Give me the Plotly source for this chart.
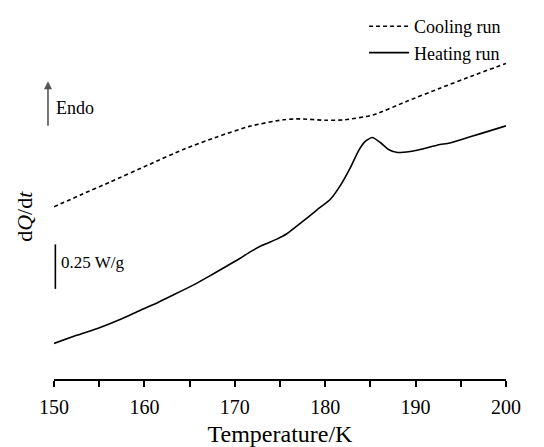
import plotly.graph_objects as go

# Temperature (K) and heat flow (W/g, relative offset)
cool_T = [150.0, 153.0, 156.2, 160.6, 164.3, 168.1, 171.7, 175.4, 177.2, 180.0, 182.2,
          185.3, 189.1, 192.7, 196.4, 200.0]
cool_Q = [0.967, 1.035, 1.106, 1.206, 1.289, 1.361, 1.420, 1.456, 1.461, 1.453, 1.456,
          1.483, 1.561, 1.633, 1.705, 1.772]

heat_T = [150.0, 152.5, 155.1, 157.5, 159.5, 161.5, 163.2, 165.5, 167.6, 170.6,
          171.7, 173.1, 174.7, 175.8, 177.2, 179.1, 180.6, 181.7, 182.8, 183.7,
          184.4, 185.2, 186.1, 187.0, 188.0, 189.4, 190.5, 192.7, 193.5, 195.0,
          197.2, 200.0]
heat_Q = [0.200, 0.245, 0.289, 0.338, 0.385, 0.430, 0.472, 0.530, 0.590, 0.678,
          0.714, 0.752, 0.787, 0.817, 0.872, 0.950, 1.011, 1.089, 1.189, 1.283,
          1.333, 1.356, 1.328, 1.289, 1.272, 1.278, 1.289, 1.317, 1.322, 1.344,
          1.378, 1.422]

x_ticks = [150, 160, 170, 180, 190, 200]
scale_bar = 0.25  # W/g

SERIF = "Liberation Serif, Times New Roman, serif"

fig = go.Figure()
fig.add_trace(go.Scatter(x=cool_T, y=cool_Q, mode="lines", name="Cooling run",
                         line=dict(color="black", width=1.6, dash="4px,3px", shape="spline", smoothing=0.6)))
fig.add_trace(go.Scatter(x=heat_T, y=heat_Q, mode="lines", name="Heating run",
                         line=dict(color="black", width=1.6, shape="spline", smoothing=0.6)))

# scale bar
sb_bottom = 0.506
fig.add_shape(type="line", xref="x", yref="y", x0=150.15, x1=150.15,
              y0=sb_bottom, y1=sb_bottom + scale_bar, line=dict(color="black", width=1.6))
fig.add_annotation(xref="x", yref="y", x=150.6, y=sb_bottom + 0.59 * scale_bar,
                   text="0.25 W/g", showarrow=False, xanchor="left", yanchor="middle",
                   font=dict(family=SERIF, size=17, color="black"))

# Endo arrow
fig.add_annotation(xref="paper", yref="y", x=-0.0133, y=1.672, ax=0, ay=46,
                   text="", showarrow=True, arrowhead=2, arrowsize=1, arrowwidth=1.6,
                   arrowcolor="#555555")
fig.add_annotation(xref="paper", yref="y", x=0.0, y=1.522,
                   text="Endo", showarrow=False, xanchor="left", yanchor="middle",
                   font=dict(family=SERIF, size=18, color="black"))

# y title
fig.add_annotation(xref="paper", yref="y", x=-0.064, y=0.911,
                   text="d<i>Q</i>/d<i>t</i>", showarrow=False, textangle=-90,
                   xanchor="center", yanchor="middle",
                   font=dict(family=SERIF, size=22, color="black"))

# page body adds an 8px offset, so figure is 8px smaller on each axis
fig.update_layout(
    width=536, height=439,
    margin=dict(l=46, r=38, t=0, b=68),
    paper_bgcolor="white", plot_bgcolor="white",
    showlegend=True,
    legend=dict(x=0.686, y=1.012, xanchor="left", yanchor="top",
                bgcolor="rgba(0,0,0,0)", itemwidth=40, tracegroupgap=0,
                font=dict(family=SERIF, size=18, color="black")),
    xaxis=dict(range=[150, 200], tickvals=x_ticks, ticktext=[str(v) for v in x_ticks],
               showgrid=False, zeroline=False, showline=True, linecolor="black", linewidth=1.6,
               ticks="outside", ticklen=6, tickwidth=1.6, tickcolor="black",
               ticklabelstandoff=3,
               minor=dict(dtick=5, ticks="outside", ticklen=6, tickwidth=1.6, tickcolor="black"),
               tickfont=dict(family=SERIF, size=20, color="black"),
               title=dict(text="Temperature/K", font=dict(family=SERIF, size=24, color="black"), standoff=8)),
    yaxis=dict(range=[0, 2.061], visible=False, showgrid=False, zeroline=False),
)

fig.write_html("out.html")
